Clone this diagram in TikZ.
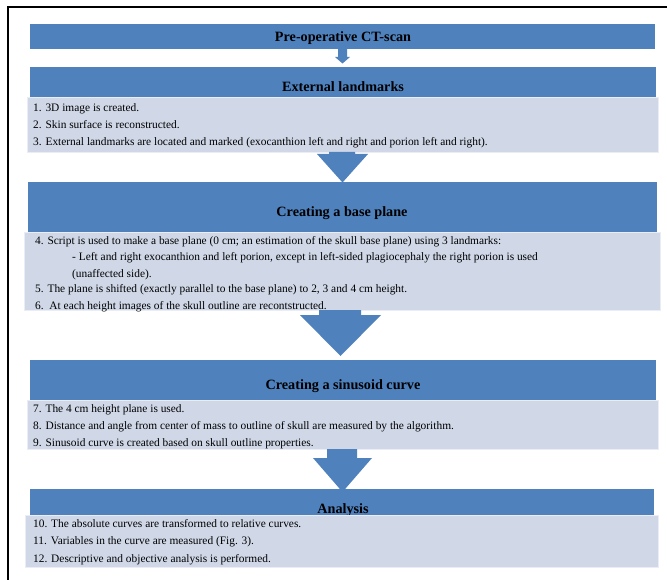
\documentclass[tikz,border=0pt]{standalone}
\usepackage{fontspec}
\setmainfont{Liberation Serif}
\definecolor{hblue}{RGB}{79,129,189}
\definecolor{bodyc}{RGB}{208,216,232}
\begin{document}
\begin{tikzpicture}[x=1pt,y=-1pt,
  hdr/.style={fill=hblue,draw=none,inner sep=0pt,anchor=north west},
  bdy/.style={fill=bodyc,draw=white!55!bodyc,line width=0.6pt,inner sep=0pt,anchor=north west},
  ttl/.style={font=\fontsize{14.2}{16}\selectfont\bfseries,inner sep=0pt,anchor=base},
  ln/.style={font=\fontsize{11.4}{13}\selectfont,inner sep=0pt,anchor=base west},
  arr/.style={fill=hblue,draw=none}]
\useasboundingbox (0,0) rectangle (667,580);
% frame
\draw[line width=2pt] (8,580) -- (8,7.5) -- (667,7.5);

% box 1
\node[hdr,minimum width=625,minimum height=25] (h1) at (30,24) {};
\node[ttl] (t1) at (343,42) {Pre-operative CT-scan};

% box 2
\node[hdr,minimum width=626,minimum height=31] (h2) at (30,67) {};
\node[ttl] (t2) at (343,92) {External landmarks};
\node[bdy,minimum width=631,minimum height=55] (b2) at (27,97) {};
\node[ln] (l1) at (33,112) {1. 3D image is created.};
\node[ln] (l2) at (33,129) {2. Skin surface is reconstructed.};
\node[ln] (l3) at (33,146) {3. External landmarks are located and marked (exocanthion left and right and porion left and right).};

% box 3
\node[hdr,minimum width=629,minimum height=50] (h3) at (28,182) {};
\node[ttl] (t3) at (342,217) {Creating a base plane};
\node[bdy,minimum width=636,minimum height=78] (b3) at (24,232) {};
\node[ln] (l4) at (35,245) {4. Script is used to make a base plane (0 cm; an estimation of the skull base plane) using 3 landmarks:};
\node[ln] (l4a) at (72,261) {- Left and right exocanthion and left porion, except in left-sided plagiocephaly the right porion is used};
\node[ln] (l4b) at (72,277) {(unaffected side).};
\node[ln] (l5) at (35,293) {5. The plane is shifted (exactly parallel to the base plane) to 2, 3 and 4 cm height.};
\node[ln] (l6) at (35,309) {6.\ \ At each height images of the skull outline are recontstructed.};

% box 4
\node[hdr,minimum width=626,minimum height=40] (h4) at (30,360) {};
\node[ttl] (t4) at (343,389) {Creating a sinusoid curve};
\node[bdy,minimum width=631,minimum height=49] (b4) at (27,400) {};
\node[ln] (l7) at (33,412) {7. The 4 cm height plane is used.};
\node[ln] (l8) at (33,429) {8. Distance and angle from center of mass to outline of skull are measured by the algorithm.};
\node[ln] (l9) at (33,446) {9. Sinusoid curve is created based on skull outline properties.};

% box 5
\node[hdr,minimum width=624,minimum height=26] (h5) at (30,489) {};
\node[ttl] (t5) at (343,513) {Analysis};
\node[bdy,minimum width=633,minimum height=52] (b5) at (25,515) {};
\node[ln] (l10) at (33,527) {10. The absolute curves are transformed to relative curves.};
\node[ln] (l11) at (33,544) {11. Variables in the curve are measured (Fig. 3).};
\node[ln] (l12) at (33,562) {12. Descriptive and objective analysis is performed.};

% block arrows
\fill[arr] (338,49) -- (347,49) -- (347,57) -- (350,57) -- (342.5,63.5) -- (335,57) -- (338,57) -- cycle;
\fill[arr] (329,152) -- (355,152) -- (355,154) -- (368,154) -- (342.5,182.5) -- (317,154) -- (329,154) -- cycle;
\fill[arr] (319,310) -- (361,310) -- (361,315) -- (381,315) -- (340.5,356) -- (300,315) -- (319,315) -- cycle;
\fill[arr] (327,449) -- (357,449) -- (357,458) -- (372,458) -- (342.5,492) -- (313,458) -- (327,458) -- cycle;
\end{tikzpicture}
\end{document}
